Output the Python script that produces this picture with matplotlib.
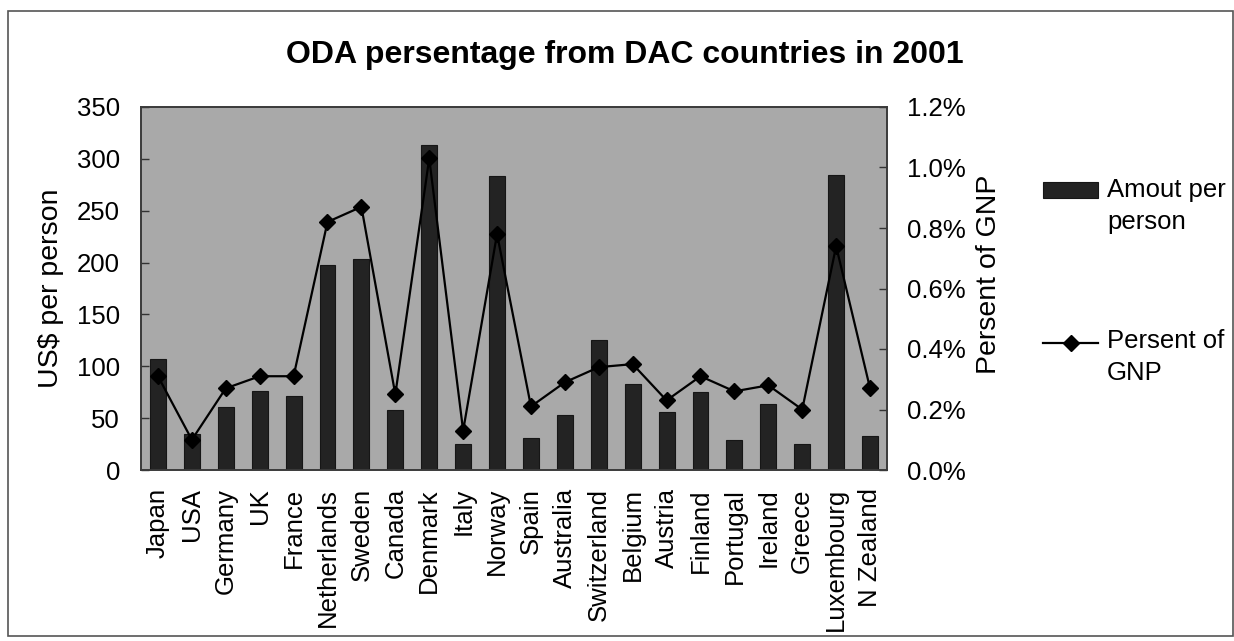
import matplotlib
matplotlib.use("Agg")
import matplotlib.pyplot as plt
from matplotlib.patches import Rectangle
from matplotlib.lines import Line2D
from matplotlib.ticker import FuncFormatter, MultipleLocator

plt.rcParams['font.family'] = ['Liberation Sans', 'DejaVu Sans']

countries = ["Japan", "USA", "Germany", "UK", "France", "Netherlands", "Sweden",
             "Canada", "Denmark", "Italy", "Norway", "Spain", "Australia",
             "Switzerland", "Belgium", "Austria", "Finland", "Portugal",
             "Ireland", "Greece", "Luxembourg", "N Zealand"]
amount_per_person = [107, 35, 61, 76, 71, 198, 203, 58, 313, 25, 283, 31, 53,
                     125, 83, 56, 75, 29, 64, 25, 284, 33]
percent_of_gnp = [0.31, 0.10, 0.27, 0.31, 0.31, 0.82, 0.87, 0.25, 1.03, 0.13,
                  0.78, 0.21, 0.29, 0.34, 0.35, 0.23, 0.31, 0.26, 0.28, 0.20,
                  0.74, 0.27]

W, H = 1234, 641
fig = plt.figure(figsize=(W / 100, H / 100), dpi=100)
fig.patch.set_facecolor('white')


def fx(px):
    return px / W


def fy(py):
    return 1 - py / H


left, right, top, bottom = 141, 887, 107, 470
ax = fig.add_axes([fx(left), fy(bottom), fx(right - left), (bottom - top) / H])
ax.set_facecolor('#a9a9a9')

x = list(range(len(countries)))
ax.bar(x, amount_per_person, width=0.47, color='#232323', edgecolor='#161616',
       linewidth=0.8, zorder=2)
ax.set_xlim(-0.5, len(countries) - 0.5)
ax.set_ylim(0, 350)
ax.yaxis.set_major_locator(MultipleLocator(50))
ax.set_xticks(x)
ax.set_xticklabels(countries, rotation=90, fontsize=18.5)
ax.tick_params(axis='x', length=0, pad=13)
ax.tick_params(axis='y', direction='in', length=6, width=1, color='#333333',
               labelsize=18.5, pad=15)

ax2 = ax.twinx()
ax2.plot(x, percent_of_gnp, color='black', linewidth=1.6, marker='D',
         markersize=8.5, markerfacecolor='black', markeredgecolor='black',
         zorder=3)
ax2.set_ylim(0, 1.2)
ax2.yaxis.set_major_locator(MultipleLocator(0.2))
ax2.yaxis.set_major_formatter(FuncFormatter(lambda v, p: f"{v:.1f}%"))
ax2.tick_params(axis='y', direction='in', length=6, width=1, color='#333333',
                labelsize=18.5, pad=14.5)

for a in (ax, ax2):
    for s in a.spines.values():
        s.set_color('#3a3a3a')
        s.set_linewidth(1.2)

# axis titles
fig.text(fx(51), fy(288), "US$ per person", rotation=90, ha='center',
         va='center', fontsize=20.5)
fig.text(fx(989), fy(274), "Persent of GNP", rotation=90, ha='center',
         va='center', fontsize=20.5)

# chart title
fig.text(fx(625), fy(63), "ODA persentage from DAC countries in 2001",
         ha='center', va='baseline', fontsize=23, fontweight='bold')

# legend
fig.add_artist(Rectangle((fx(1043), fy(198)), fx(55), 16 / H,
                         transform=fig.transFigure, facecolor='#232323',
                         edgecolor='#161616', linewidth=0.8))
fig.text(fx(1107), fy(197.5), "Amout per", ha='left', va='baseline',
         fontsize=18.5)
fig.text(fx(1107), fy(229.5), "person", ha='left', va='baseline',
         fontsize=18.5)
fig.add_artist(Line2D([fx(1043), fx(1098)], [fy(343), fy(343)],
                      transform=fig.transFigure, color='black', linewidth=1.6))
fig.add_artist(Line2D([fx(1070.5)], [fy(343)], transform=fig.transFigure,
                      marker='D', markersize=8.5, color='black',
                      linestyle='none'))
fig.text(fx(1107), fy(348), "Persent of", ha='left', va='baseline',
         fontsize=18.5)
fig.text(fx(1107), fy(380), "GNP", ha='left', va='baseline', fontsize=18.5)

# chart border
fig.add_artist(Rectangle((fx(8), fy(636)), fx(1225), 625 / H,
                         transform=fig.transFigure, facecolor='none',
                         edgecolor='#555555', linewidth=1.2))

fig.savefig("out.png", dpi=100)
